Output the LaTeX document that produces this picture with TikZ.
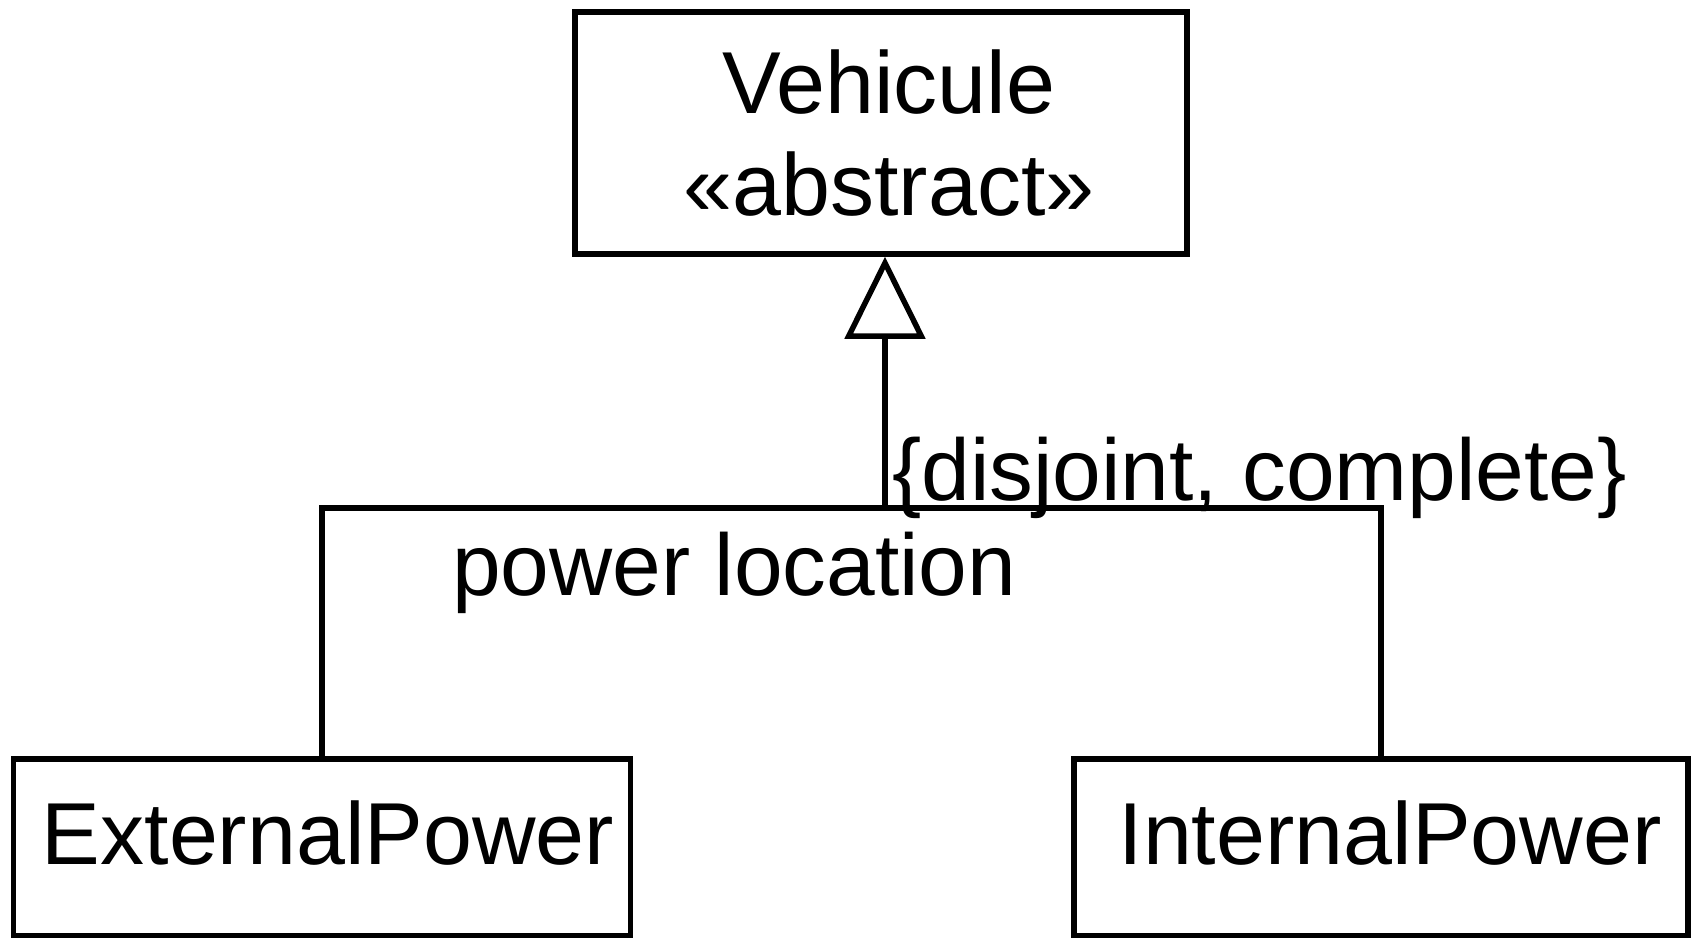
\documentclass[tikz,border=0pt]{standalone}
\usepackage{fontspec}
\setmainfont{Liberation Sans}
\usepackage{tikz}
\usetikzlibrary{arrows.meta}
\usetikzlibrary{calc}

\tikzset{
    classbox/.style={draw=black,line width=5.5pt,inner sep=0pt,font=\fontsize{88}{102}\selectfont},
    umltext/.style={inner sep=0pt,font=\fontsize{87.5}{101}\selectfont},
    generalization/.style={line width=5.5pt,-{Triangle[open,length=82pt,width=80pt]}}
}

\begin{document}
\begin{tikzpicture}[x=1pt,y=-1pt]
    \useasboundingbox (0,0) rectangle (1691,937);

    \node[classbox,minimum width=612pt,minimum height=242pt,align=center] (vehicule) at (881,133) {\hspace*{16pt}Vehicule\\\hspace*{16pt}«abstract»};
    \node[classbox,minimum width=617pt,minimum height=177pt,text height=100pt,text depth=67pt] (external) at (322,847.5) {\hspace*{12pt}ExternalPower};
    \node[classbox,minimum width=614pt,minimum height=177pt,text height=100pt,text depth=67pt] (internal) at (1381,847.5) {\hspace*{18pt}InternalPower};

    \coordinate (split) at (885,508);
    \draw[line width=5.5pt] (external.north) |- (split) -| (internal.north);
    \draw[generalization] (split) -- (split |- vehicule.south);

    \node[umltext,anchor=base west] (constraint) at (892,500) {\{disjoint, complete\}};
    \node[umltext,anchor=base west] (discriminator) at (452,595) {power location};
\end{tikzpicture}
\end{document}
